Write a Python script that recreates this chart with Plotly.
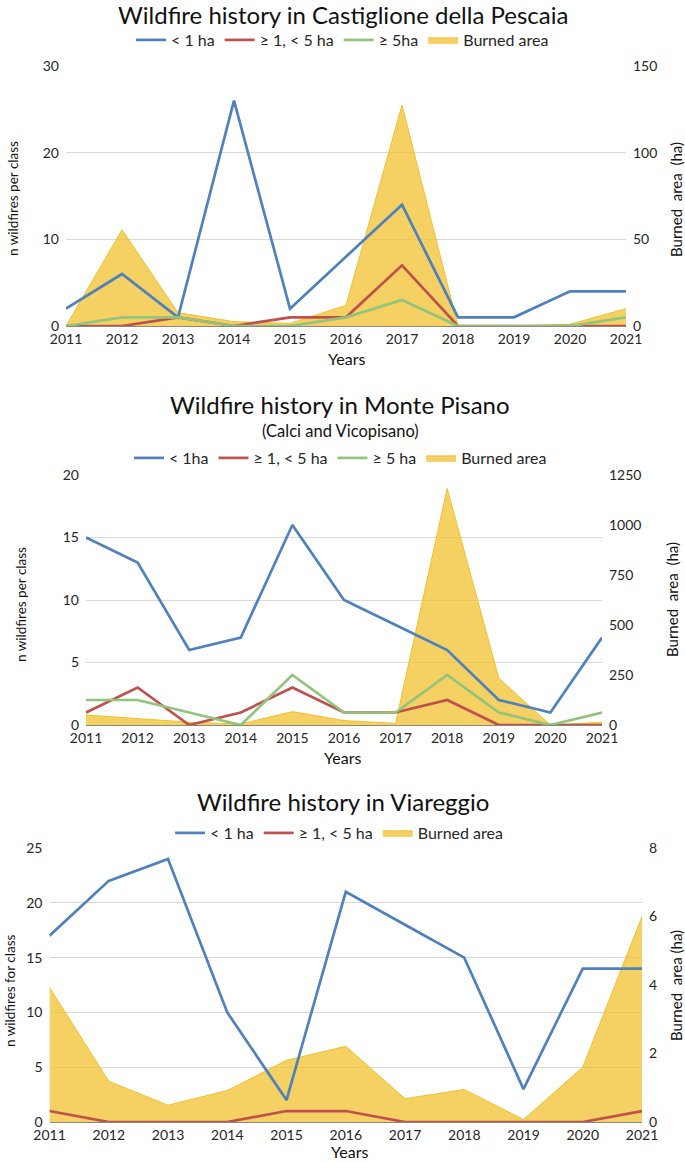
import plotly.graph_objects as go

W, H = 685, 1162
FONT = "Lato"

years = [2011, 2012, 2013, 2014, 2015, 2016, 2017, 2018, 2019, 2020, 2021]

# Panel 1 - Castiglione della Pescaia
cast_lt1 = [2, 6, 1, 26, 2, 8, 14, 1, 1, 4, 4]
cast_1to5 = [0, 0, 1, 0, 1, 1, 7, 0, 0, 0, 0]
cast_ge5 = [0, 1, 1, 0, 0, 1, 3, 0, 0, 0, 1]
cast_area = [0, 55.5, 7.7, 2.5, 1.5, 11.9, 127.5, 0, 0, 1, 10]

# Panel 2 - Monte Pisano
mp_lt1 = [15, 13, 6, 7, 16, 10, 8, 6, 2, 1, 7]
mp_1to5 = [1, 3, 0, 1, 3, 1, 1, 2, 0, 0, 0]
mp_ge5 = [2, 2, 1, 0, 4, 1, 1, 4, 1, 0, 1]
mp_area = [50, 32, 14, 5, 67, 22, 8, 1183, 234, 0, 14]

# Panel 3 - Viareggio
via_lt1 = [17, 22, 24, 10, 2, 21, 18, 15, 3, 14, 14]
via_1to5 = [1, 0, 0, 0, 1, 1, 0, 0, 0, 0, 1]
via_area = [3.93, 1.19, 0.49, 0.92, 1.8, 2.21, 0.68, 0.95, 0.07, 1.6, 6.0]

BLUE = "#4F81BD"
RED = "#C0504D"
GREEN = "#93C47D"
FILL = "rgba(242,192,45,0.75)"
FILL_LINE = "rgba(242,192,45,1)"
TXT = "#262626"


def py(p):
    return 1 - p / H


def px(p):
    return p / W


fig = go.Figure()

panels = [
    dict(x="x", ya="y", yc="y2", legend="legend",
         lines=[("< 1 ha", cast_lt1, BLUE), ("\u2265 1, < 5 ha", cast_1to5, RED), ("\u2265 5ha", cast_ge5, GREEN)],
         area=cast_area),
    dict(x="x2", ya="y3", yc="y4", legend="legend2",
         lines=[("< 1ha", mp_lt1, BLUE), ("\u2265 1, < 5 ha", mp_1to5, RED), ("\u2265 5 ha", mp_ge5, GREEN)],
         area=mp_area),
    dict(x="x3", ya="y5", yc="y6", legend="legend3",
         lines=[("< 1 ha", via_lt1, BLUE), ("\u2265 1, < 5 ha", via_1to5, RED)],
         area=via_area),
]

for p in panels:
    for name, vals, col in p["lines"]:
        fig.add_trace(go.Scatter(x=years, y=vals, name=name, mode="lines",
                                 line=dict(color=col, width=2.7),
                                 xaxis=p["x"], yaxis=p["yc"], legend=p["legend"]))
    fig.add_trace(go.Scatter(x=years, y=p["area"], name="Burned area", mode="lines",
                             fill="tozeroy", fillcolor=FILL,
                             line=dict(color=FILL_LINE, width=1),
                             xaxis=p["x"], yaxis=p["ya"], legend=p["legend"]))

tickfont = dict(family=FONT, size=14, color=TXT)

geo = [
    # x left px, x right px, y top px, y bottom px, count max, count dtick, area max, area dtick
    (66, 626, 66, 326, 30, 10, 150, 50),
    (86, 602, 475, 725, 20, 5, 1250, 250),
    (49.5, 642, 848, 1122, 25, 5, 8, 2),
]

layout = dict(
    width=W, height=H, margin=dict(l=0, r=0, t=0, b=0, autoexpand=False),
    paper_bgcolor="white", plot_bgcolor="white",
    font=dict(family=FONT, color=TXT),
    showlegend=True,
)

for i, (x0, x1, yt, yb, cmax, cd, amax, ad) in enumerate(geo):
    xk = "xaxis" if i == 0 else f"xaxis{i+1}"
    ya_k = f"yaxis{2*i+1}" if i > 0 else "yaxis"
    yc_k = f"yaxis{2*i+2}"
    xa_ref = "x" if i == 0 else f"x{i+1}"
    ya_ref = "y" if i == 0 else f"y{2*i+1}"
    layout[xk] = dict(domain=[px(x0), px(x1)], range=[2011, 2021], dtick=1, tick0=2011,
                      anchor=ya_ref, showgrid=False, zeroline=False, automargin=False,
                      showline=True, linecolor="#8a8a7a", linewidth=1.2,
                      ticks="", tickfont=tickfont, ticklabelstandoff=0)
    layout[ya_k] = dict(domain=[py(yb), py(yt)], range=[0, amax], dtick=ad, tick0=0,
                        side="right", anchor=xa_ref, showgrid=False, zeroline=False,
                        automargin=False,
                        showline=False, ticks="", tickfont=tickfont, ticklabelstandoff=6)
    layout[yc_k] = dict(range=[0, cmax], dtick=cd, tick0=0, side="left",
                        overlaying=ya_ref, anchor=xa_ref, showgrid=True,
                        gridcolor="#d9d9d9", gridwidth=1.2, zeroline=False,
                        automargin=False,
                        showline=False, ticks="", tickfont=tickfont, ticklabelstandoff=6)

legend_common = dict(orientation="h", xanchor="center", yanchor="middle",
                     font=dict(family=FONT, size=16, color=TXT), bgcolor="rgba(0,0,0,0)",
                     itemwidth=30, tracegroupgap=0)
layout["legend"] = dict(x=0.5, y=py(40), **legend_common)
layout["legend2"] = dict(x=0.497, y=py(458), **legend_common)
layout["legend3"] = dict(x=0.495, y=py(833), **legend_common)

ann = []


def text(t, xp, yp, size, angle=0):
    ann.append(dict(text=t, x=px(xp), y=py(yp), xref="paper", yref="paper",
                    xanchor="center", yanchor="middle", showarrow=False,
                    textangle=angle, font=dict(family=FONT, size=size, color="#111")))


text("Wildfire history in Castiglione della Pescaia", 343, 15, 24)
text("Wildfire history in Monte Pisano", 340, 405, 24)
text("(Calci and Vicopisano)", 340, 431, 16.5)
text("Wildfire history in Viareggio", 343, 801, 24)

text("Years", 346, 358, 16)
text("Years", 342, 757, 16)
text("Years", 349, 1151, 16)

text("n wildfires per class", 13, 199, 13.5, -90)
text("Burned&nbsp; area&nbsp; (ha)", 676, 200, 15, -90)
text("n wildfires per class", 21, 605, 13.5, -90)
text("Burned&nbsp; area&nbsp; (ha)", 672, 600, 15, -90)
text("n wildfires for class", 10, 991, 13.5, -90)
text("Burned&nbsp; area (ha)", 676, 986, 15, -90)

layout["annotations"] = ann
fig.update_layout(**layout)

fig.write_html("out.html", config={"displayModeBar": False},
               post_script="document.body.style.margin='0';document.body.style.overflow='hidden';")
